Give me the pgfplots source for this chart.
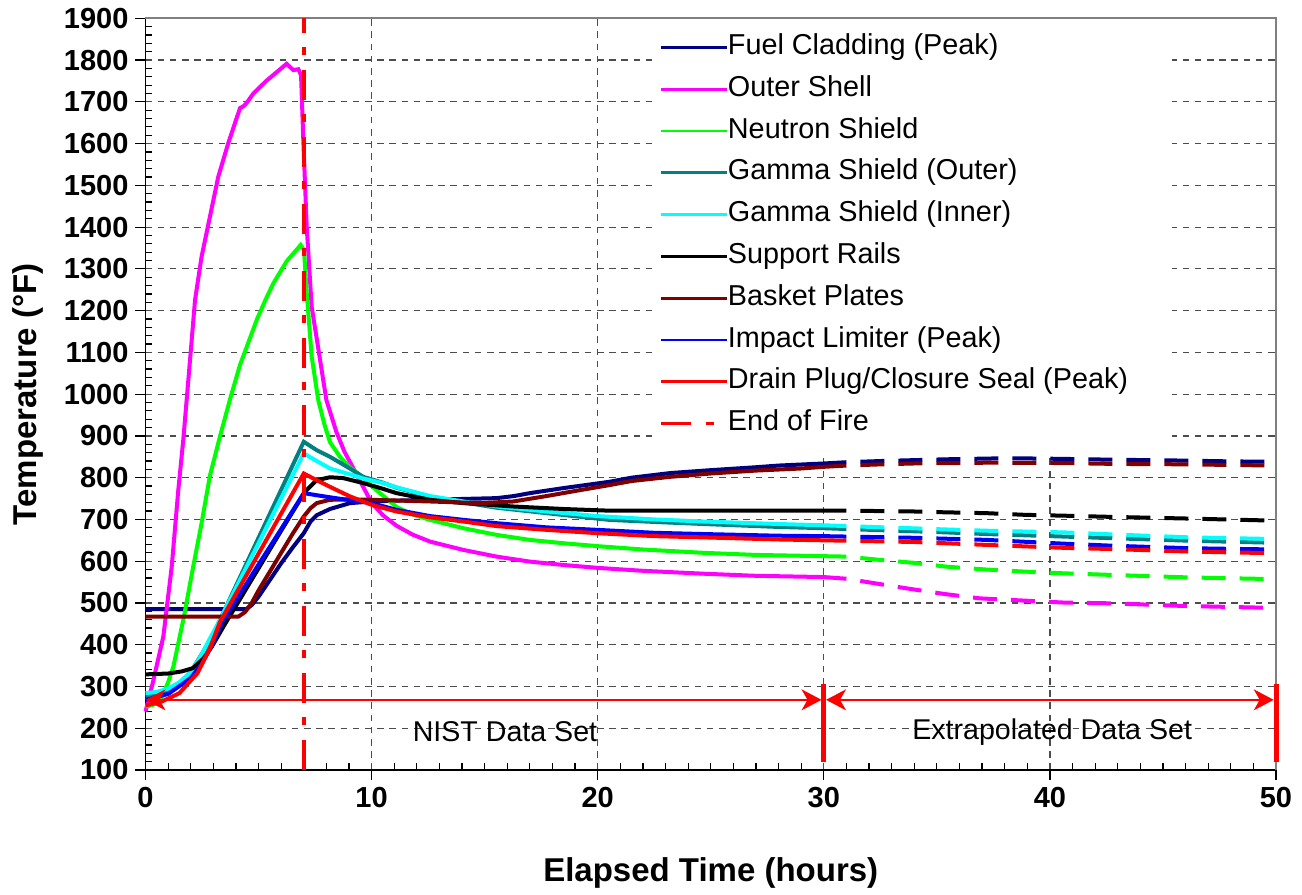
\documentclass[border=0pt]{standalone}
\usepackage{fontspec}
\setmainfont{Liberation Sans}
\usepackage{pgfplots}
\pgfplotsset{compat=1.18}
\usetikzlibrary{arrows.meta}

\definecolor{cNavy}{HTML}{000080}
\definecolor{cMag}{HTML}{FF00FF}
\definecolor{cGreen}{HTML}{00FF00}
\definecolor{cTeal}{HTML}{008080}
\definecolor{cCyan}{HTML}{00FFFF}
\definecolor{cMaroon}{HTML}{800000}
\definecolor{cBlue}{HTML}{0000FF}
\definecolor{cRed}{HTML}{FF0000}

\tikzset{extrap/.style={dash pattern=on 12pt off 7pt, dash phase=12pt}}

\begin{document}
\begin{tikzpicture}
\begin{axis}[
  name=ax, scale only axis,
  width=565.25pt, height=375.85pt,
  xmin=0, xmax=50, ymin=100, ymax=1900,
  xtick={0,10,...,50}, ytick={100,200,...,1900},
  minor x tick num=9, minor y tick num=4,
  axis lines*=left,
  axis line style={black, line width=0.7pt},
  tick style={black, line width=0.6pt},
  tick align=outside, major tick length=5pt, minor tick length=-3.3pt,
  grid=major,
  major grid style={black!70, line width=0.6pt, dash pattern=on 3.3pt off 2.8pt},
  /pgf/number format/assume math mode=true,
  /pgf/number format/1000 sep={},
  tick label style={font=\bfseries\fontsize{14.5}{17}\selectfont},
  xlabel={Elapsed Time (hours)},
  ylabel={Temperature (°F)},
  label style={font=\bfseries\fontsize{16.5}{19}\selectfont},
  xlabel style={yshift=-18pt},
  ylabel style={yshift=3.5pt},
  clip=false,
  every axis plot/.append style={line width=2pt},
  legend style={at={(axis cs:22.7,1900)}, anchor=north west, yshift=-7.6pt,
    draw=none, fill=none, inner sep=0pt, row sep=7.4pt, column sep=0pt,
    font=\fontsize{14.4}{17}\selectfont,
    nodes={inner sep=0pt, text height=10.3pt, text depth=3.2pt}},
  legend cell align=left,
  legend image code/.code={\draw[#1, line width=1.4pt] (0pt,0pt) -- (33pt,0pt);},
]
% legend background
\fill[white] (axis cs:22.4,856) rectangle (axis cs:45.4,1900);
\draw[gray, line width=0.8pt] (rel axis cs:0,1) -- (rel axis cs:1,1) -- (rel axis cs:1,0);

% Fuel Cladding (Peak)
\addplot[cNavy] coordinates {(0,485) (4.45,485) (4.7,495) (5.0,515) (5.5,555) (6.0,595) (6.5,632) (7.0,667) (7.3,695) (7.57,710) (8.16,725) (9.04,739) (10,743) (11,745) (12.58,747) (14,749) (15.53,751) (16.3,756) (17,763) (18.48,775) (20.5,790) (21.5,800) (23.2,811) (25,818) (27,825) (28,829) (30,834) (31,837)};
\addlegendentry{Fuel Cladding (Peak)}
% Outer Shell
\addplot[cMag] coordinates {(0,240) (0.35,315) (0.79,420) (1.16,587) (1.45,770) (1.67,890) (1.97,1082) (2.19,1225) (2.48,1329) (2.85,1425) (3.22,1521) (3.66,1601) (4.18,1685) (4.35,1690) (4.47,1697) (4.77,1720) (5.34,1750) (6.24,1791) (6.54,1776) (6.76,1778) (6.88,1764) (6.98,1608) (7.13,1401) (7.35,1209) (7.64,1110) (8.0,986) (8.44,910) (8.8,862) (9.04,838) (9.49,792) (10,740) (10.5,710) (11.1,685) (11.8,664) (12.58,647) (14.06,627) (15.53,611) (17,599) (18.48,591) (20,584) (22,577) (24.7,570) (27,565) (30,562) (31,558)};
\addlegendentry{Outer Shell}
% Neutron Shield
\addplot[cGreen] coordinates {(0,252) (0.3,255) (0.64,265) (1.0,310) (1.23,347) (1.7,467) (2.11,587) (2.48,691) (2.85,805) (3.3,900) (3.75,990) (4.18,1070) (4.47,1112) (4.92,1178) (5.3,1225) (5.65,1265) (6.24,1318) (6.86,1357) (7.01,1345) (7.13,1243) (7.35,1090) (7.64,986) (7.9,930) (8.16,885) (8.6,850) (9.04,825) (9.63,800) (10,780) (10.37,763) (11.1,730) (11.8,712) (12.58,699) (14.06,679) (15.53,663) (17,651) (18.48,643) (20,636) (22,628) (24.7,620) (27,615) (30,612) (31,611)};
\addlegendentry{Neutron Shield}
% Gamma Shield (Outer)
\addplot[cTeal] coordinates {(0,276) (0.5,280) (1,290) (1.5,305) (2,335) (2.4,370) (2.8,405) (3.15,443) (4,541) (5,656) (6,771) (7,886) (7.57,866) (8.16,850) (9.04,822) (9.63,802) (10.5,788) (11.1,776) (12.58,754) (14.06,741) (15.53,728) (17.74,715) (20.5,699) (22.5,694) (24.7,689) (28,682) (30,679) (31,677)};
\addlegendentry{Gamma Shield (Outer)}
% Gamma Shield (Inner)
\addplot[cCyan] coordinates {(0,284) (0.5,287) (1,295) (1.5,310) (2,335) (2.4,368) (2.8,410) (3.2,450) (4,536) (5,643) (6,751) (7,858) (7.57,840) (8.16,822) (9.04,808) (9.63,798) (10.5,787) (11.1,777) (12.58,756) (14.06,743) (15.53,731) (17.74,719) (20,708) (22.5,700) (24.7,695) (28,689) (30,686) (31,684)};
\addlegendentry{Gamma Shield (Inner)}
% Support Rails
\addplot[black] coordinates {(0,329) (1,331) (1.6,336) (2.1,344) (2.56,367) (2.93,395) (3.5,448) (4,493) (5,583) (6,673) (7.05,766) (7.57,794) (8.16,801) (8.75,799) (9.63,787) (10.4,775) (11.1,763) (12.58,747) (14.06,739) (16.27,731) (18.48,725) (20.5,721) (24.7,721) (31,721)};
\addlegendentry{Support Rails}
% Basket Plates
\addplot[cMaroon] coordinates {(0,467) (4.1,467) (4.4,478) (4.7,500) (5.0,530) (5.5,575) (6.0,620) (6.5,665) (7.0,707) (7.3,727) (7.57,739) (8.16,747) (9.05,748) (10,747) (12.58,743) (14.8,739) (16.27,743) (17.74,756) (19.2,770) (20.5,782) (21.5,792) (23.2,802) (25,810) (27,817) (29,822) (30,826) (31,829)};
\addlegendentry{Basket Plates}
% Impact Limiter (Peak)
\addplot[cBlue] coordinates {(0,268) (1,282) (2,320) (2.5,355) (3,405) (3.4,455) (4,506) (5,592) (6,677) (7,763) (7.57,758) (8.16,753) (9.05,746) (10,739) (11.1,723) (12.58,708) (14.06,699) (15.53,691) (17.74,681) (20,675) (22.5,668) (24.7,665) (28,661) (30,660) (31,659)};
\addlegendentry{Impact Limiter (Peak)}
% Drain Plug/Closure Seal (Peak)
\addplot[cRed] coordinates {(0,255) (0.64,262) (1.5,284) (2.3,332) (2.85,392) (3.3,455) (4,522) (5,618) (6,714) (7,810) (7.57,794) (8.16,778) (9.05,755) (10,735) (11.1,719) (12.58,705) (14.06,695) (15.53,684) (17.74,675) (20,667) (22.5,660) (24.7,657) (28,652) (30,650) (31,649)};
\addlegendentry{Drain Plug/Closure Seal (Peak)}

% extrapolated (dashed)
\addplot[cNavy, extrap, forget plot] coordinates {(31,837) (32.6,840) (34,842) (35.4,844) (37.5,846) (39.1,846) (40.6,845) (42.8,843) (45.8,841) (48,839) (50,838)};
\addplot[cMag, extrap, forget plot] coordinates {(31,558) (32.5,545) (33.9,533) (35.4,521) (36.9,511) (39.1,505) (40.6,501) (42.8,499) (45.8,493) (50,488)};
\addplot[cGreen, extrap, forget plot] coordinates {(31,611) (32.5,603) (34,596) (35.4,587) (37.2,580) (38.9,575) (40.6,571) (42.8,567) (46.2,561) (50,557)};
\addplot[cTeal, extrap, forget plot] coordinates {(31,677) (33.8,672) (35.4,669) (37.2,665) (38.9,662) (40.6,659) (42.8,655) (46.2,649) (50,644)};
\addplot[cCyan, extrap, forget plot] coordinates {(31,684) (33.8,679) (35.4,676) (37.2,673) (38.9,671) (40.6,669) (42.8,664) (46.2,657) (50,653)};
\addplot[black, extrap, forget plot] coordinates {(31,721) (34,719) (35.4,717) (37.2,715) (38.9,711) (40.6,709) (42.8,706) (46.2,702) (50,697)};
\addplot[cMaroon, extrap, forget plot] coordinates {(31,829) (32.6,832) (34,834) (37.5,836) (40.6,835) (42.8,833) (45.8,832) (50,829)};
\addplot[cBlue, extrap, forget plot] coordinates {(31,659) (34,656) (37.2,651) (40.6,642) (42.8,637) (46.2,631) (50,628)};
\addplot[cRed, extrap, forget plot] coordinates {(31,649) (34,646) (37.2,639) (40.6,632) (42.8,629) (46.2,623) (50,619)};

% End of Fire
\addplot[cRed, line width=2pt, dash pattern=on 15pt off 7.5pt on 4pt off 7pt] coordinates {(7,100) (7,1900)};
\addlegendentry{End of Fire}

% data set annotations
\draw[cRed, line width=0.8pt, {Stealth[length=10pt,width=10.5pt,inset=3pt]}-{Stealth[length=10pt,width=10.5pt,inset=3pt]}] (axis cs:0,268) -- (axis cs:29.9,268);
\draw[cRed, line width=0.8pt, {Stealth[length=10pt,width=10.5pt,inset=3pt]}-{Stealth[length=10pt,width=10.5pt,inset=3pt]}] (axis cs:30.1,268) -- (axis cs:49.9,268);
\draw[cRed, line width=2.5pt] (axis cs:30,120) -- (axis cs:30,306);
\draw[cRed, line width=2.5pt] (axis cs:50,120) -- (axis cs:50,306);
\node[font=\fontsize{14.3}{17}\selectfont] at (axis cs:15.9,192) {NIST Data Set};
\node[font=\fontsize{14.3}{17}\selectfont] at (axis cs:40.1,190) {Extrapolated Data Set};
\end{axis}
\path (ax.south west) ++(-72.75pt,-59pt) rectangle ++(651pt,444pt);
\end{tikzpicture}
\end{document}
